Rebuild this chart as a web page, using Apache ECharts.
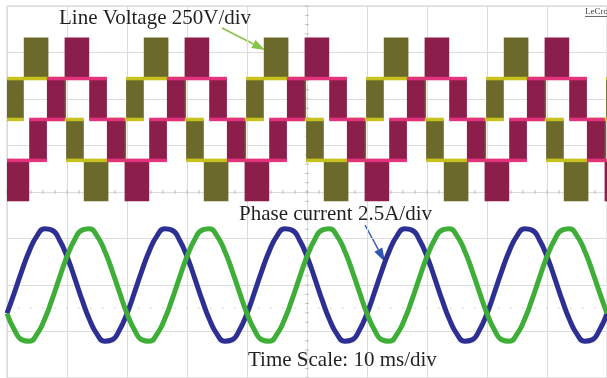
<!DOCTYPE html>
<html><head><meta charset="utf-8">
<script src="https://cdn.jsdelivr.net/npm/echarts@6/dist/echarts.min.js"></script>
<style>html,body{margin:0;padding:0;background:#fff}#c{width:607px;height:378px}</style>
</head><body><div id="c"></div>
<script>
// ---- time base (ms) for sampled phase currents ----
const timeMs = [0,1.25,2.5,3.75,5,6.25,7.5,8.75,10,11.25,12.5,13.75,15,16.25,17.5,18.75,
  20,21.25,22.5,23.75,25,26.25,27.5,28.75,30,31.25,32.5,33.75,35,36.25,37.5,38.75,
  40,41.25,42.5,43.75,45,46.25,47.5,48.75,50,51.25,52.5,53.75,55,56.25,57.5,58.75,
  60,61.25,62.5,63.75,65,66.25,67.5,68.75,70,71.25,72.5,73.75,75,76.25,77.5,78.75,
  80,81.25,82.5,83.75,85,86.25,87.5,88.75,90,91.25,92.5,93.75,95,96.25,97.5,98.75,100];

// ---- phase currents (A) ----
const currentBlue = [-1.53,-0.40,0.79,1.86,2.64,3.02,2.95,2.42,1.53,0.40,-0.79,-1.86,-2.64,-3.02,-2.95,-2.42,
  -1.53,-0.40,0.79,1.86,2.64,3.02,2.95,2.42,1.53,0.40,-0.79,-1.86,-2.64,-3.02,-2.95,-2.42,
  -1.53,-0.40,0.79,1.86,2.64,3.02,2.95,2.42,1.53,0.40,-0.79,-1.86,-2.64,-3.02,-2.95,-2.42,
  -1.53,-0.40,0.79,1.86,2.64,3.02,2.95,2.42,1.53,0.40,-0.79,-1.86,-2.64,-3.02,-2.95,-2.42,
  -1.53,-0.40,0.79,1.86,2.64,3.02,2.95,2.42,1.53,0.40,-0.79,-1.86,-2.64,-3.02,-2.95,-2.42,-1.53];
const currentGreen = [-1.53,-2.42,-2.95,-3.02,-2.64,-1.86,-0.79,0.40,1.53,2.42,2.95,3.02,2.64,1.86,0.79,-0.40,
  -1.53,-2.42,-2.95,-3.02,-2.64,-1.86,-0.79,0.40,1.53,2.42,2.95,3.02,2.64,1.86,0.79,-0.40,
  -1.53,-2.42,-2.95,-3.02,-2.64,-1.86,-0.79,0.40,1.53,2.42,2.95,3.02,2.64,1.86,0.79,-0.40,
  -1.53,-2.42,-2.95,-3.02,-2.64,-1.86,-0.79,0.40,1.53,2.42,2.95,3.02,2.64,1.86,0.79,-0.40,
  -1.53,-2.42,-2.95,-3.02,-2.64,-1.86,-0.79,0.40,1.53,2.42,2.95,3.02,2.64,1.86,0.79,-0.40,-1.53];

// ---- line voltages: segment edges (ms) and PWM band (V) ----
const oliveEdges = [0,2.8,6.9,9.85,12.8,16.9,19.85,22.8,26.9,29.85,32.8,36.9,39.85,42.8,46.9,49.85,
  52.8,56.9,59.85,62.8,66.9,69.85,72.8,76.9,79.85,82.8,86.9,89.85,92.8,96.9,99.85,100];
const oliveLow  = [0,220,0,-220,-440,-220, 0,220,0,-220,-440,-220, 0,220,0,-220,-440,-220,
  0,220,0,-220,-440,-220, 0,220,0,-220,-440,-220, 0];
const oliveHigh = [220,440,220,0,-220,0, 220,440,220,0,-220,0, 220,440,220,0,-220,0,
  220,440,220,0,-220,0, 220,440,220,0,-220,0, 220];
const magentaEdges = [0,3.7,6.65,9.6,13.7,16.65,19.6,23.7,26.65,29.6,33.7,36.65,39.6,43.7,46.65,49.6,
  53.7,56.65,59.6,63.7,66.65,69.6,73.7,76.65,79.6,83.7,86.65,89.6,93.7,96.65,99.6,100];
const magentaLow  = [-440,-220,0,220,0,-220, -440,-220,0,220,0,-220, -440,-220,0,220,0,-220,
  -440,-220,0,220,0,-220, -440,-220,0,220,0,-220, -440];
const magentaHigh = [-220,0,220,440,220,0, -220,0,220,440,220,0, -220,0,220,440,220,0,
  -220,0,220,440,220,0, -220,0,220,440,220,0, -220];

// ---- texts ----
const voltageLabel = 'Line Voltage 250V/div';
const currentLabel = 'Phase current 2.5A/div';
const timeLabel = 'Time Scale: 10 ms/div';
const brandLabel = 'LeCroy';

function bands(edges, low, high) {
  const out = [];
  for (let i = 0; i < low.length; i++) out.push([edges[i], edges[i + 1], low[i], high[i]]);
  return out;
}
function bandRender(fill, ribbon) {
  return function (params, api) {
    const t0 = api.value(0), t1 = api.value(1), lo = api.value(2), hi = api.value(3);
    const a = api.coord([t0, hi]), b = api.coord([t1, lo]);
    const kids = [{ type: 'rect', shape: { x: a[0], y: a[1], width: b[0] - a[0], height: b[1] - a[1] }, style: { fill: fill } }];
    [lo, hi].forEach(function (v) {
      const y = api.coord([t0, v])[1];
      if (Math.abs(v) < 400) {
        kids.push({ type: 'line', shape: { x1: a[0], y1: y, x2: b[0], y2: y }, style: { stroke: ribbon, lineWidth: 3.5 } });
      }
    });
    return { type: 'group', children: kids };
  };
}
function decorRender(params, api) {
  const kids = [];
  for (let t = 0; t <= 100; t += 2) {
    const p = api.coord([t, 4]);
    kids.push({ type: 'line', shape: { x1: p[0], y1: p[1] - 2, x2: p[0], y2: p[1] + 2 }, style: { stroke: '#bdbdbd', lineWidth: 1 } });
    const q = api.coord([t, 1.5]);
    kids.push({ type: 'circle', shape: { cx: q[0], cy: q[1], r: 0.8 }, style: { fill: '#d0d0d0' } });
  }
  for (let k = 0; k <= 40; k++) {
    const p = api.coord([50, k * 0.2]);
    kids.push({ type: 'line', shape: { x1: p[0] - 2, y1: p[1], x2: p[0] + 2, y2: p[1] }, style: { stroke: '#bdbdbd', lineWidth: 1 } });
  }
  return { type: 'group', children: kids };
}
function arrow(x1, y1, x2, y2, color, headLen, headW, lw) {
  const dx = x2 - x1, dy = y2 - y1, L = Math.hypot(dx, dy), ux = dx / L, uy = dy / L;
  const bx = x2 - ux * headLen, by = y2 - uy * headLen, px = -uy, py = ux;
  return [
    { type: 'line', shape: { x1: x1, y1: y1, x2: bx, y2: by }, style: { stroke: color, lineWidth: lw } },
    { type: 'polygon', shape: { points: [[x2, y2], [bx + px * headW, by + py * headW], [bx - px * headW, by - py * headW]] }, style: { fill: color } }
  ];
}
const serif = '"Liberation Serif", "DejaVu Serif", serif';
function label(text, x, baseline, size) {
  return { type: 'text', x: x, y: baseline - 0.305 * size, style: { text: text, font: size + 'px ' + serif, fill: '#231f20', align: 'left', verticalAlign: 'middle', textAlign: 'left', textVerticalAlign: 'middle' }, z: 100 };
}

const chart = echarts.init(document.getElementById('c'), null, { renderer: 'canvas' });
const hidden = { axisLine: { show: false }, axisTick: { show: false }, axisLabel: { show: false } };
chart.setOption({
  backgroundColor: '#ffffff',
  animation: false,
  grid: { left: 7, top: 6, width: 605, height: 372, show: true, borderColor: '#cfcfcf', borderWidth: 1, backgroundColor: '#ffffff' },
  xAxis: Object.assign({ type: 'value', min: 0, max: 100, interval: 10, splitLine: { show: true, lineStyle: { color: '#dcdcdc', width: 1 } } }, hidden),
  yAxis: [
    Object.assign({ type: 'value', min: 0, max: 8, interval: 1, splitLine: { show: true, lineStyle: { color: '#dcdcdc', width: 1 } } }, hidden),
    { type: 'value', min: -1390, max: 610, show: false, splitLine: { show: false } },
    { type: 'value', min: -5, max: 15, show: false, splitLine: { show: false } }
  ],
  series: [
    { type: 'custom', name: 'grid', xAxisIndex: 0, yAxisIndex: 0, renderItem: decorRender, data: [[0, 0]], silent: true, z: 1 },
    { type: 'custom', name: 'Line voltage A', xAxisIndex: 0, yAxisIndex: 1, clip: true, z: 2,
      encode: { x: [0, 1], y: [2, 3] }, renderItem: bandRender('#6c6a2b', '#c8c21f'), data: bands(oliveEdges, oliveLow, oliveHigh) },
    { type: 'custom', name: 'Line voltage B', xAxisIndex: 0, yAxisIndex: 1, clip: true, z: 3,
      encode: { x: [0, 1], y: [2, 3] }, renderItem: bandRender('#8c1e4b', '#e2337c'), data: bands(magentaEdges, magentaLow, magentaHigh) },
    { type: 'line', name: 'Phase current A', xAxisIndex: 0, yAxisIndex: 2, smooth: 0.5, showSymbol: false, symbol: 'none', z: 4,
      lineStyle: { color: '#2e2f93', width: 5 }, data: timeMs.map((t, i) => [t, currentBlue[i]]) },
    { type: 'line', name: 'Phase current B', xAxisIndex: 0, yAxisIndex: 2, smooth: 0.5, showSymbol: false, symbol: 'none', z: 5,
      lineStyle: { color: '#3fae38', width: 5 }, data: timeMs.map((t, i) => [t, currentGreen[i]]) }
  ],
  graphic: [].concat(
    [label(voltageLabel, 59, 25, 21), label(currentLabel, 239, 221, 21), label(timeLabel, 248, 367, 21),
     { type: 'text', x: 585, y: 12, style: { text: brandLabel, font: '9px ' + serif, fill: '#444', verticalAlign: 'middle', textVerticalAlign: 'middle' }, z: 100 },
     { type: 'line', shape: { x1: 585, y1: 16.5, x2: 607, y2: 16.5 }, style: { stroke: '#444', lineWidth: 0.8 }, z: 100 }],
    arrow(222, 28, 265, 50, '#86c447', 13, 4.5, 1.6),
    arrow(365, 225, 385, 262, '#3156b4', 14, 4.5, 1.4)
  )
});
</script></body></html>
